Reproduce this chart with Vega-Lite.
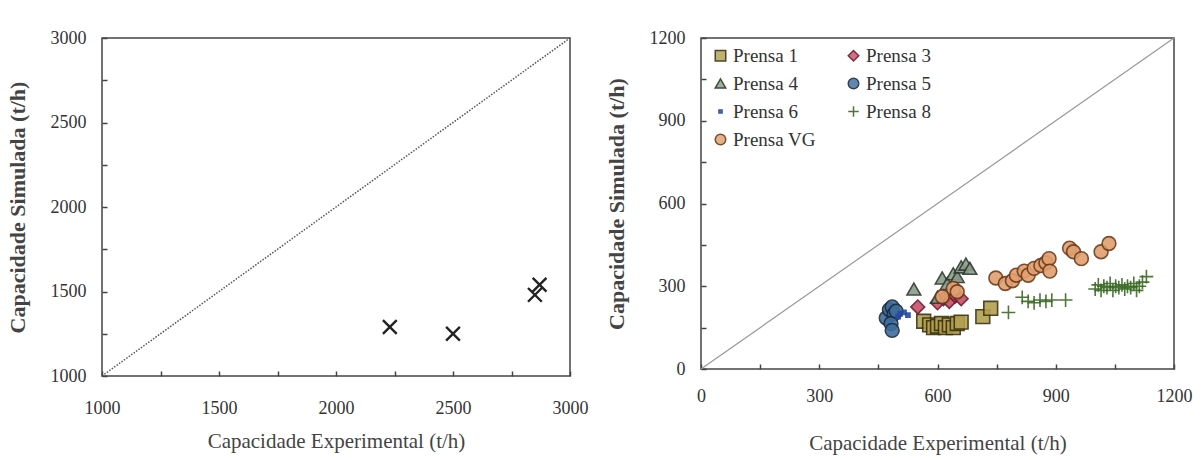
{
  "$schema": "https://vega.github.io/schema/vega-lite/v6.json",
  "padding": {"left": 5, "top": 28, "right": 2, "bottom": 2},
  "background": "white",
  "config": {
    "font": "Liberation Serif",
    "style": {"guide-label": {"font": "Liberation Serif"}, "guide-title": {"font": "Liberation Serif"}},
    "view": {"stroke": "#444", "strokeWidth": 1.5},
    "axis": {
      "labelFont": "Liberation Serif", "labelFontSize": 18, "labelColor": "#333", "labelFlush": false,
      "titleFont": "Liberation Serif", "titleFontSize": 21, "titleColor": "#444", "titleFontWeight": "normal",
      "grid": false, "domain": false, "tickSize": -5, "tickColor": "#444", "tickWidth": 1.5
    },
    "legend": {"labelFont": "Liberation Serif", "labelFontSize": 19, "labelColor": "#333"}
  },
  "resolve": {"legend": {"shape": "independent", "fill": "independent", "stroke": "independent"}},
  "spacing": 15,
  "hconcat": [
    {
      "width": 468, "height": 338,
      "layer": [
        {
          "data": {"values": [{"x": 1000, "y": 1000}, {"x": 3000, "y": 3000}]},
          "mark": {"type": "line", "color": "#555", "strokeWidth": 1.5, "strokeDash": [1.5, 1.5]},
          "encoding": {
            "x": {"field": "x", "type": "quantitative", "scale": {"domain": [1000, 3000]}},
            "y": {"field": "y", "type": "quantitative", "scale": {"domain": [1000, 3000]}}
          }
        },
        {
          "data": {"values": [
            {"x": 2230, "y": 1290}, {"x": 2500, "y": 1250}, {"x": 2850, "y": 1480}, {"x": 2870, "y": 1540}
          ]},
          "mark": {"type": "point", "shape": "M-1,-1L1,1M-1,1L1,-1", "filled": false, "stroke": "#222", "strokeWidth": 2.4, "size": 190, "opacity": 1},
          "encoding": {
            "x": {"field": "x", "type": "quantitative", "scale": {"domain": [1000, 3000]},
              "title": "Capacidade Experimental (t/h)",
              "axis": {"values": [1000, 1250, 1500, 1750, 2000, 2250, 2500, 2750, 3000], "labelExpr": "datum.value % 500 == 0 ? datum.label : ''", "format": "d", "labelPadding": 28, "titlePadding": 13}},
            "y": {"field": "y", "type": "quantitative", "scale": {"domain": [1000, 3000]},
              "title": "Capacidade Simulada (t/h)",
              "axis": {"values": [1000, 1250, 1500, 1750, 2000, 2250, 2500, 2750, 3000], "labelExpr": "datum.value % 500 == 0 ? datum.label : ''", "format": "d", "titleFontWeight": "bold", "titleFontSize": 22, "labelPadding": 21, "titlePadding": 21}}
          }
        }
      ]
    },
    {
      "width": 473, "height": 331,
      "layer": [
        {
          "data": {"values": [{"x": 0, "y": 0}, {"x": 1200, "y": 1200}]},
          "mark": {"type": "line", "color": "#999", "strokeWidth": 1.2},
          "encoding": {
            "x": {"field": "x", "type": "quantitative", "scale": {"domain": [0, 1200]}},
            "y": {"field": "y", "type": "quantitative", "scale": {"domain": [0, 1200]}}
          }
        },
        {
          "data": {"values": [
            {"serie": "Prensa 1", "x": 565, "y": 173}, {"serie": "Prensa 1", "x": 580, "y": 160}, {"serie": "Prensa 1", "x": 590, "y": 150},
            {"serie": "Prensa 1", "x": 600, "y": 155}, {"serie": "Prensa 1", "x": 610, "y": 165}, {"serie": "Prensa 1", "x": 620, "y": 150},
            {"serie": "Prensa 1", "x": 630, "y": 160}, {"serie": "Prensa 1", "x": 640, "y": 150}, {"serie": "Prensa 1", "x": 650, "y": 165},
            {"serie": "Prensa 1", "x": 660, "y": 170}, {"serie": "Prensa 1", "x": 715, "y": 190}, {"serie": "Prensa 1", "x": 735, "y": 220},
            {"serie": "Prensa 3", "x": 550, "y": 225}, {"serie": "Prensa 3", "x": 600, "y": 240}, {"serie": "Prensa 3", "x": 615, "y": 255},
            {"serie": "Prensa 3", "x": 630, "y": 245}, {"serie": "Prensa 3", "x": 645, "y": 265}, {"serie": "Prensa 3", "x": 660, "y": 255},
            {"serie": "Prensa 4", "x": 540, "y": 290}, {"serie": "Prensa 4", "x": 600, "y": 260}, {"serie": "Prensa 4", "x": 612, "y": 330},
            {"serie": "Prensa 4", "x": 625, "y": 310}, {"serie": "Prensa 4", "x": 640, "y": 345}, {"serie": "Prensa 4", "x": 650, "y": 335},
            {"serie": "Prensa 4", "x": 660, "y": 370}, {"serie": "Prensa 4", "x": 672, "y": 380}, {"serie": "Prensa 4", "x": 682, "y": 365},
            {"serie": "Prensa 5", "x": 470, "y": 185}, {"serie": "Prensa 5", "x": 478, "y": 215}, {"serie": "Prensa 5", "x": 485, "y": 225},
            {"serie": "Prensa 5", "x": 490, "y": 200}, {"serie": "Prensa 5", "x": 482, "y": 165}, {"serie": "Prensa 5", "x": 485, "y": 140},
            {"serie": "Prensa 5", "x": 495, "y": 210},
            {"serie": "Prensa 6", "x": 505, "y": 200}, {"serie": "Prensa 6", "x": 515, "y": 205}, {"serie": "Prensa 6", "x": 525, "y": 195},
            {"serie": "Prensa 6", "x": 500, "y": 190},
            {"serie": "Prensa 8", "x": 780, "y": 205}, {"serie": "Prensa 8", "x": 815, "y": 260}, {"serie": "Prensa 8", "x": 830, "y": 245},
            {"serie": "Prensa 8", "x": 845, "y": 240}, {"serie": "Prensa 8", "x": 860, "y": 250}, {"serie": "Prensa 8", "x": 875, "y": 245},
            {"serie": "Prensa 8", "x": 890, "y": 250}, {"serie": "Prensa 8", "x": 925, "y": 250},
            {"serie": "Prensa 8", "x": 1000, "y": 290}, {"serie": "Prensa 8", "x": 1008, "y": 305}, {"serie": "Prensa 8", "x": 1015, "y": 285},
            {"serie": "Prensa 8", "x": 1022, "y": 300}, {"serie": "Prensa 8", "x": 1030, "y": 295}, {"serie": "Prensa 8", "x": 1038, "y": 310},
            {"serie": "Prensa 8", "x": 1045, "y": 285}, {"serie": "Prensa 8", "x": 1052, "y": 300}, {"serie": "Prensa 8", "x": 1060, "y": 295},
            {"serie": "Prensa 8", "x": 1068, "y": 305}, {"serie": "Prensa 8", "x": 1075, "y": 290}, {"serie": "Prensa 8", "x": 1082, "y": 300},
            {"serie": "Prensa 8", "x": 1090, "y": 295}, {"serie": "Prensa 8", "x": 1098, "y": 310}, {"serie": "Prensa 8", "x": 1105, "y": 285},
            {"serie": "Prensa 8", "x": 1112, "y": 300}, {"serie": "Prensa 8", "x": 1120, "y": 315}, {"serie": "Prensa 8", "x": 1130, "y": 335},
            {"serie": "Prensa VG", "x": 612, "y": 262}, {"serie": "Prensa VG", "x": 640, "y": 292}, {"serie": "Prensa VG", "x": 650, "y": 280},
            {"serie": "Prensa VG", "x": 748, "y": 330}, {"serie": "Prensa VG", "x": 772, "y": 310}, {"serie": "Prensa VG", "x": 790, "y": 320},
            {"serie": "Prensa VG", "x": 800, "y": 340}, {"serie": "Prensa VG", "x": 820, "y": 355}, {"serie": "Prensa VG", "x": 830, "y": 340},
            {"serie": "Prensa VG", "x": 845, "y": 365}, {"serie": "Prensa VG", "x": 862, "y": 375}, {"serie": "Prensa VG", "x": 875, "y": 385},
            {"serie": "Prensa VG", "x": 883, "y": 400}, {"serie": "Prensa VG", "x": 885, "y": 355}, {"serie": "Prensa VG", "x": 935, "y": 438},
            {"serie": "Prensa VG", "x": 945, "y": 425}, {"serie": "Prensa VG", "x": 965, "y": 400}, {"serie": "Prensa VG", "x": 1015, "y": 425},
            {"serie": "Prensa VG", "x": 1035, "y": 455}
          ]},
          "mark": {"type": "point", "filled": true, "size": 190, "strokeWidth": 1.6, "opacity": 0.9},
          "encoding": {
            "x": {"field": "x", "type": "quantitative", "scale": {"domain": [0, 1200]},
              "title": "Capacidade Experimental (t/h)",
              "axis": {"values": [0, 150, 300, 450, 600, 750, 900, 1050, 1200], "labelExpr": "datum.value % 300 == 0 ? datum.label : ''", "format": "d", "labelPadding": 23, "titlePadding": 27}},
            "y": {"field": "y", "type": "quantitative", "scale": {"domain": [0, 1200]},
              "title": "Capacidade Simulada (t/h)",
              "axis": {"values": [0, 150, 300, 450, 600, 750, 900, 1050, 1200], "labelExpr": "datum.value % 300 == 0 ? datum.label : ''", "format": "d", "titleFontWeight": "bold", "titleFontSize": 22, "labelPadding": 21, "titlePadding": 21}},
            "shape": {"field": "serie", "type": "nominal",
              "scale": {"domain": ["Prensa 1", "Prensa 4", "Prensa 6", "Prensa VG", "Prensa 3", "Prensa 5", "Prensa 8"],
                "range": ["square", "triangle-up", "M-0.3,-0.3H0.3V0.3H-0.3Z", "circle", "diamond", "circle", "M-1,0H1M0,-1V1"]},
              "legend": {"title": null, "orient": "none", "legendX": 10, "legendY": 8, "columns": 2, "columnPadding": 28, "rowPadding": 8, "symbolSize": 110, "symbolStrokeWidth": 1.5, "padding": 0, "labelOffset": 3}},
            "fill": {"field": "serie", "type": "nominal",
              "scale": {"domain": ["Prensa 1", "Prensa 4", "Prensa 6", "Prensa VG", "Prensa 3", "Prensa 5", "Prensa 8"],
                "range": ["#b3a050", "#8c9c8a", "#2a4aa0", "#e0a070", "#c8506a", "#3f6d9c", "#3a6a25"]},
              "legend": {"title": null, "orient": "none", "legendX": 10, "legendY": 8, "columns": 2}},
            "stroke": {"field": "serie", "type": "nominal",
              "scale": {"domain": ["Prensa 1", "Prensa 4", "Prensa 6", "Prensa VG", "Prensa 3", "Prensa 5", "Prensa 8"],
                "range": ["#3a3310", "#2e3a2e", "#2a4aa0", "#6e3a18", "#6a1a2a", "#1c2c40", "#3a6a25"]},
              "legend": {"title": null, "orient": "none", "legendX": 10, "legendY": 8, "columns": 2}}
          }
        }
      ]
    }
  ]
}
